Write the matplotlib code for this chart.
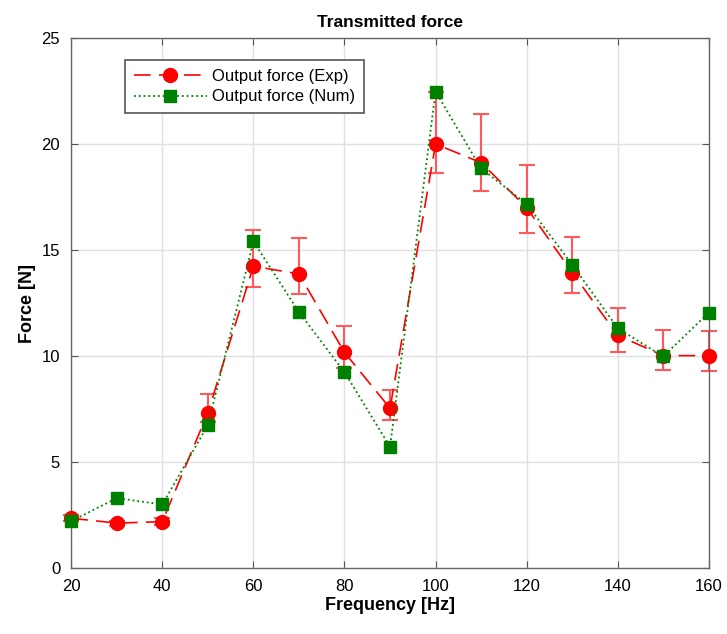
import numpy as np
import matplotlib
matplotlib.use("Agg")
import matplotlib.pyplot as plt

# Data
freq = [20, 30, 40, 50, 60, 70, 80, 90, 100, 110, 120, 130, 140, 150, 160]
force_exp = [2.35, 2.12, 2.19, 7.33, 14.24, 13.87, 10.17, 7.54, 20.0, 19.12,
             17.0, 13.94, 10.98, 10.02, 10.02]
err_low = [0.15, 0.12, 0.15, 0.45, 0.99, 0.92, 0.73, 0.55, 1.38, 1.34,
           1.21, 0.96, 0.79, 0.68, 0.74]
err_high = [0.15, 0.12, 0.15, 0.86, 1.71, 1.72, 1.23, 0.88, 2.47, 2.31,
            2.02, 1.68, 1.28, 1.23, 1.14]
force_num = [2.21, 3.30, 3.0, 6.74, 15.41, 12.07, 9.24, 5.72, 22.47, 18.85,
             17.17, 14.31, 11.31, 9.98, 12.05]

plt.rcParams['font.family'] = ['Liberation Sans', 'DejaVu Sans']

fig = plt.figure(figsize=(7.27, 6.34), dpi=100)
ax = fig.add_axes([0.098, 0.104, 0.877, 0.836])

# Experimental force with asymmetric error bars
ax.errorbar(freq, force_exp, yerr=[err_low, err_high], fmt='none',
            ecolor=(1.0, 0.35, 0.35), elinewidth=1.5, capsize=6, capthick=1.5,
            zorder=2, clip_on=False)
ax.plot(freq, force_exp, color='red', linestyle=(0, (10, 5)), linewidth=1.2,
        marker='o', markersize=10, label='Output force (Exp)', zorder=3,
        clip_on=False)
ax.plot(freq, force_num, color=(0, 0.5, 0), linestyle=':', linewidth=1.3,
        marker='s', markersize=8, label='Output force (Num)', zorder=4,
        clip_on=False)

ax.set_xlim(20, 160)
ax.set_ylim(0, 25)
ax.set_xticks(np.arange(20, 161, 20))
ax.set_yticks(np.arange(0, 26, 5))
ax.grid(True, color='#e0e0e0', linewidth=1.0)
ax.set_axisbelow(True)
ax.tick_params(direction='in', top=True, right=True, labelsize=12,
               color='#555555', length=5, pad=8)
for sp in ax.spines.values():
    sp.set_color('#666666')
    sp.set_linewidth(1.0)

ax.set_title('Transmitted force', fontsize=12.5, fontweight='bold', pad=8)
ax.set_xlabel('Frequency [Hz]', fontsize=13, fontweight='bold', labelpad=2)
ax.set_ylabel('Force [N]', fontsize=13, fontweight='bold', labelpad=4)

leg = ax.legend(loc='upper left', bbox_to_anchor=(0.085, 0.958), fontsize=12,
                fancybox=False, framealpha=1, edgecolor='#555555',
                handlelength=4.4, borderpad=0.5, labelspacing=0.35,
                handletextpad=0.3, borderaxespad=0)
leg.get_frame().set_linewidth(1.2)

fig.savefig('out.png', dpi=100)
